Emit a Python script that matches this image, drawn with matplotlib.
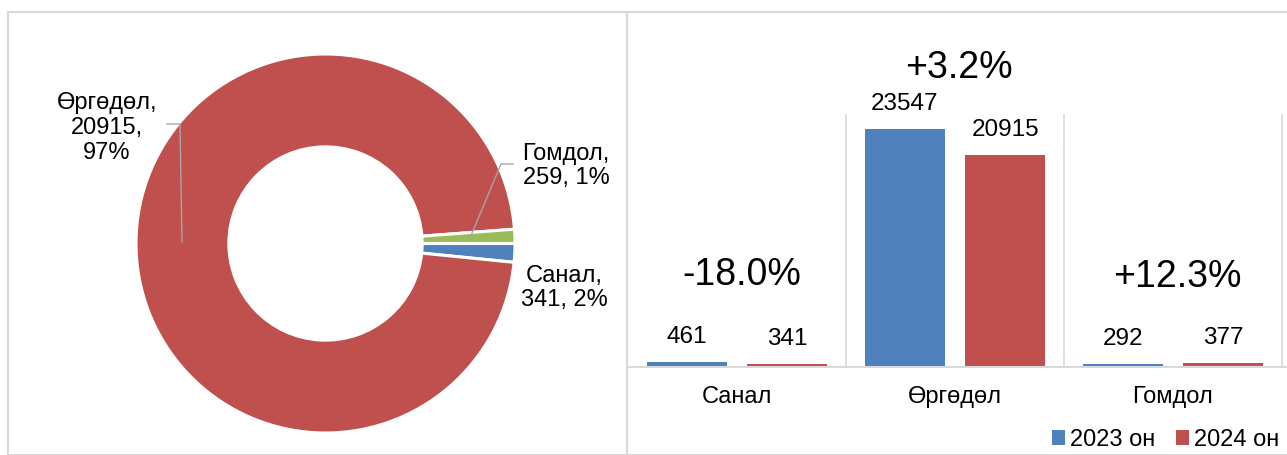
import matplotlib.pyplot as plt
from matplotlib.patches import Rectangle

plt.rcParams['font.family'] = ['Liberation Sans', 'DejaVu Sans']

# data
pie_labels = ['Санал', 'Өргөдөл', 'Гомдол']
pie_values = [341, 20915, 259]
pie_pcts = ['2%', '97%', '1%']

categories = ['Санал', 'Өргөдөл', 'Гомдол']
vals_2023 = [461, 23547, 292]
vals_2024 = [341, 20915, 377]
changes = ['-18.0%', '+3.2%', '+12.3%']
series_names = ['2023 он', '2024 он']

blue = '#4F81BD'
red = '#C0504D'
green = '#9BBB59'
grey = '#D9D9D9'

W, H = 1287, 455
fig = plt.figure(figsize=(W / 100, H / 100), dpi=100)

# panel frames
for x0, x1 in [(8, 627), (627, 1290)]:
    fig.patches.append(Rectangle((x0 / W, 0), (x1 - x0) / W, (H - 12) / H,
                                 transform=fig.transFigure, fill=False,
                                 edgecolor=grey, lw=1.5, zorder=0))

# ---- donut (axes in pixel units, y from bottom)
axp = fig.add_axes([0, 0, 627 / W, 1])
axp.pie(pie_values, colors=[blue, red, green], startangle=0, counterclock=False,
        center=(325.5, H - 243.5), radius=189.5,
        wedgeprops=dict(width=189.5 * 0.49, edgecolor='white', linewidth=2.2))
axp.set_xlim(0, 627)
axp.set_ylim(0, H)
axp.set_aspect('equal')
axp.axis('off')

def py(y):
    return H - y

lab_fs = 17
axp.text(107, py(128), f'{pie_labels[1]},\n{pie_values[1]},\n{pie_pcts[1]}',
         ha='center', va='center', fontsize=lab_fs, linespacing=1.15)
axp.text(566, py(166), f'{pie_labels[2]},\n{pie_values[2]}, {pie_pcts[2]}',
         ha='center', va='center', fontsize=lab_fs, linespacing=1.15)
axp.text(564, py(288), f'{pie_labels[0]},\n{pie_values[0]}, {pie_pcts[0]}',
         ha='center', va='center', fontsize=lab_fs, linespacing=1.15)
axp.plot([167, 180, 182], [py(124), py(124), py(242)], color='#A6A6A6', lw=1)
axp.plot([513, 501, 470], [py(164), py(164), py(238)], color='#A6A6A6', lw=1)

# ---- bars
axb = fig.add_axes([628 / W, (H - 367) / H, 659 / W, 253 / H])
x = range(len(categories))
off, bw = 0.23, 0.37
b1 = axb.bar([i - off for i in x], vals_2023, bw, color=blue, label=series_names[0])
b2 = axb.bar([i + off for i in x], vals_2024, bw, color=red, label=series_names[1])
for bars in (b1, b2):
    for r in bars:
        axb.annotate(f'{int(r.get_height())}', (r.get_x() + r.get_width() / 2, r.get_height()),
                     xytext=(0, 18), textcoords='offset points', ha='center', va='center',
                     fontsize=17.5)

axb.set_xlim(-0.5, 2.523)
axb.set_ylim(0, 25000)
for b in (0.5, 1.5, 2.5):
    axb.axvline(b, color=grey, lw=1.2, zorder=0)

change_y = [9100, 29557, 8867]
for i, (c, yv) in enumerate(zip(changes, change_y)):
    axb.text(i + 0.02, yv, c, ha='center', va='center', fontsize=27, clip_on=False)

axb.set_xticks(list(x))
axb.set_xticklabels(categories, fontsize=17)
axb.tick_params(axis='x', length=0, pad=14)
axb.set_yticks([])
for s in ('top', 'right', 'left'):
    axb.spines[s].set_visible(False)
axb.spines['bottom'].set_color(grey)
axb.spines['bottom'].set_linewidth(1.5)

fig.legend(handles=[b1, b2], loc='lower right', bbox_to_anchor=(1.005, -0.022),
           ncol=2, frameon=False, fontsize=17, borderpad=0.1,
           handlelength=0.55, handleheight=0.55, handletextpad=0.2,
           columnspacing=0.9)

fig.savefig('out.png', dpi=100)
